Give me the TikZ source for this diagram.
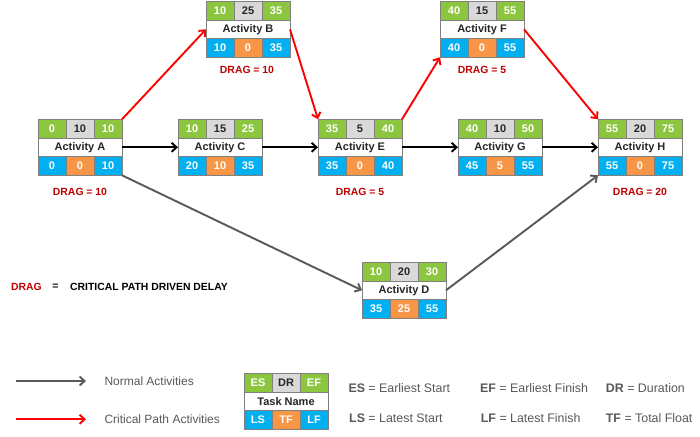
\documentclass[tikz,border=0pt]{standalone}
\usepackage{fontspec}
\setmainfont{Liberation Sans}
\usetikzlibrary{arrows.meta}
\definecolor{cgreen}{HTML}{8CC63F}
\definecolor{cblue}{HTML}{00B0F0}
\definecolor{corange}{HTML}{F79646}
\definecolor{cgray}{HTML}{D9D9D9}
\definecolor{cborder}{HTML}{808080}
\definecolor{cdrag}{HTML}{C00000}
\definecolor{cred}{HTML}{FF0000}
\definecolor{cdark}{HTML}{595959}
\definecolor{ctext}{HTML}{262626}
\tikzset{
  boxframe/.style={minimum width=84pt, minimum height=56pt, inner sep=0pt, outer sep=0pt},
  cell/.style={draw=cborder, line width=0.9pt, minimum width=28pt, minimum height=18.67pt, inner sep=0pt, outer sep=0pt, text=white, font=\bfseries\fontsize{11}{13}\selectfont},
  cellg/.style={cell, fill=cgreen},
  cellgr/.style={cell, fill=cgray, text=ctext},
  cellb/.style={cell, fill=cblue},
  cello/.style={cell, fill=corange},
  titlecell/.style={cell, fill=white, minimum width=84pt, text=ctext},
  critarrow/.style={draw=cred, line width=1.9pt, -{Straight Barb[length=5pt,width=9pt]}},
  blkarrow/.style={draw=black, line width=1.9pt, -{Straight Barb[length=5pt,width=9pt]}},
  grayarrow/.style={draw=cdark, line width=1.9pt, -{Straight Barb[length=5pt,width=9pt]}},
  draglabel/.style={text=cdrag, font=\bfseries\fontsize{10.4}{12}\selectfont, inner sep=0pt},
  legtext/.style={text=cdark, font=\fontsize{12}{14}\selectfont, anchor=west, inner sep=0pt},
  keytext/.style={text=cdark, font=\fontsize{12.4}{14}\selectfont, anchor=west, inner sep=0pt},
}
\newcommand\actnode[9]{%
  \node[boxframe, anchor=north west] (#1) at #2 {};
  \node[cellg, anchor=north west] (#1es) at (#1.north west) {#3};
  \node[cellgr, anchor=north] (#1dr) at (#1.north) {#4};
  \node[cellg, anchor=north east] (#1ef) at (#1.north east) {#5};
  \node[titlecell, anchor=west] (#1t) at (#1.west) {#6};
  \node[cellb, anchor=south west] (#1ls) at (#1.south west) {#7};
  \node[cello, anchor=south] (#1tf) at (#1.south) {#8};
  \node[cellb, anchor=south east] (#1lf) at (#1.south east) {#9};
}
\begin{document}
\begin{tikzpicture}[x=1pt,y=-1pt]
\fill[white] (0,0) rectangle (700,436);
\useasboundingbox (0,0) rectangle (700,436);

\actnode{A}{(38,119.3)}{0}{10}{10}{Activity A}{0}{0}{10}
\actnode{B}{(206,1.3)}{10}{25}{35}{Activity B}{10}{0}{35}
\actnode{C}{(178,119.3)}{10}{15}{25}{Activity C}{20}{10}{35}
\actnode{E}{(318,119.3)}{35}{5}{40}{Activity E}{35}{0}{40}
\actnode{F}{(440,1.3)}{40}{15}{55}{Activity F}{40}{0}{55}
\actnode{G}{(458,119.3)}{40}{10}{50}{Activity G}{45}{5}{55}
\actnode{H}{(598,119.3)}{55}{20}{75}{Activity H}{55}{0}{75}
\actnode{D}{(362,262.3)}{10}{20}{30}{Activity D}{35}{25}{55}

\draw[critarrow] (A.north east) -- (B.west);
\draw[blkarrow] (A.east) -- (C.west);
\draw[grayarrow] (A.south east) -- (D.west);
\draw[critarrow] (B.east) -- (E.north west);
\draw[blkarrow] (C.east) -- (E.west);
\draw[critarrow] (E.north east) -- (F.south west);
\draw[blkarrow] (E.east) -- (G.west);
\draw[critarrow] (F.east) -- (H.north west);
\draw[blkarrow] (G.east) -- (H.west);
\draw[grayarrow] (D.east) -- (H.south west);

\node[draglabel] (dA) at (80,192) {DRAG = 10};
\node[draglabel] (dB) at (247,70) {DRAG = 10};
\node[draglabel] (dE) at (360,192) {DRAG = 5};
\node[draglabel] (dF) at (482,70) {DRAG = 5};
\node[draglabel] (dH) at (640,192) {DRAG = 20};

\node[draglabel, anchor=west] (ldrag) at (11,286.5) {DRAG};
\node[draglabel, anchor=center, text=black] (leq) at (55.5,286.5) {=};
\node[draglabel, anchor=west, text=black] (ldef) at (70,286.5) {CRITICAL PATH DRIVEN DELAY};

\coordinate (n1) at (16,381);
\coordinate (n2) at (86,381);
\coordinate (r1) at (16,419.3);
\coordinate (r2) at (86,419.3);
\draw[grayarrow] (n1) -- (n2);
\draw[critarrow] (r1) -- (r2);
\node[legtext] (lnorm) at (104.3,381) {Normal Activities};
\node[legtext] (lcrit) at (104.3,419.3) {Critical Path Activities};

\actnode{K}{(244,373.3)}{ES}{DR}{EF}{Task Name}{LS}{TF}{LF}

\node[keytext] (kes) at (348.3,387.7) {\textbf{ES} = Earliest Start};
\node[keytext] (kef) at (480,387.7) {\textbf{EF} = Earliest Finish};
\node[keytext] (kdr) at (605.7,387.7) {\textbf{DR} = Duration};
\node[keytext] (kls) at (349,418.3) {\textbf{LS} = Latest Start};
\node[keytext] (klf) at (480.7,418.3) {\textbf{LF} = Latest Finish};
\node[keytext] (ktf) at (605.7,418.3) {\textbf{TF} = Total Float};
\end{tikzpicture}
\end{document}
